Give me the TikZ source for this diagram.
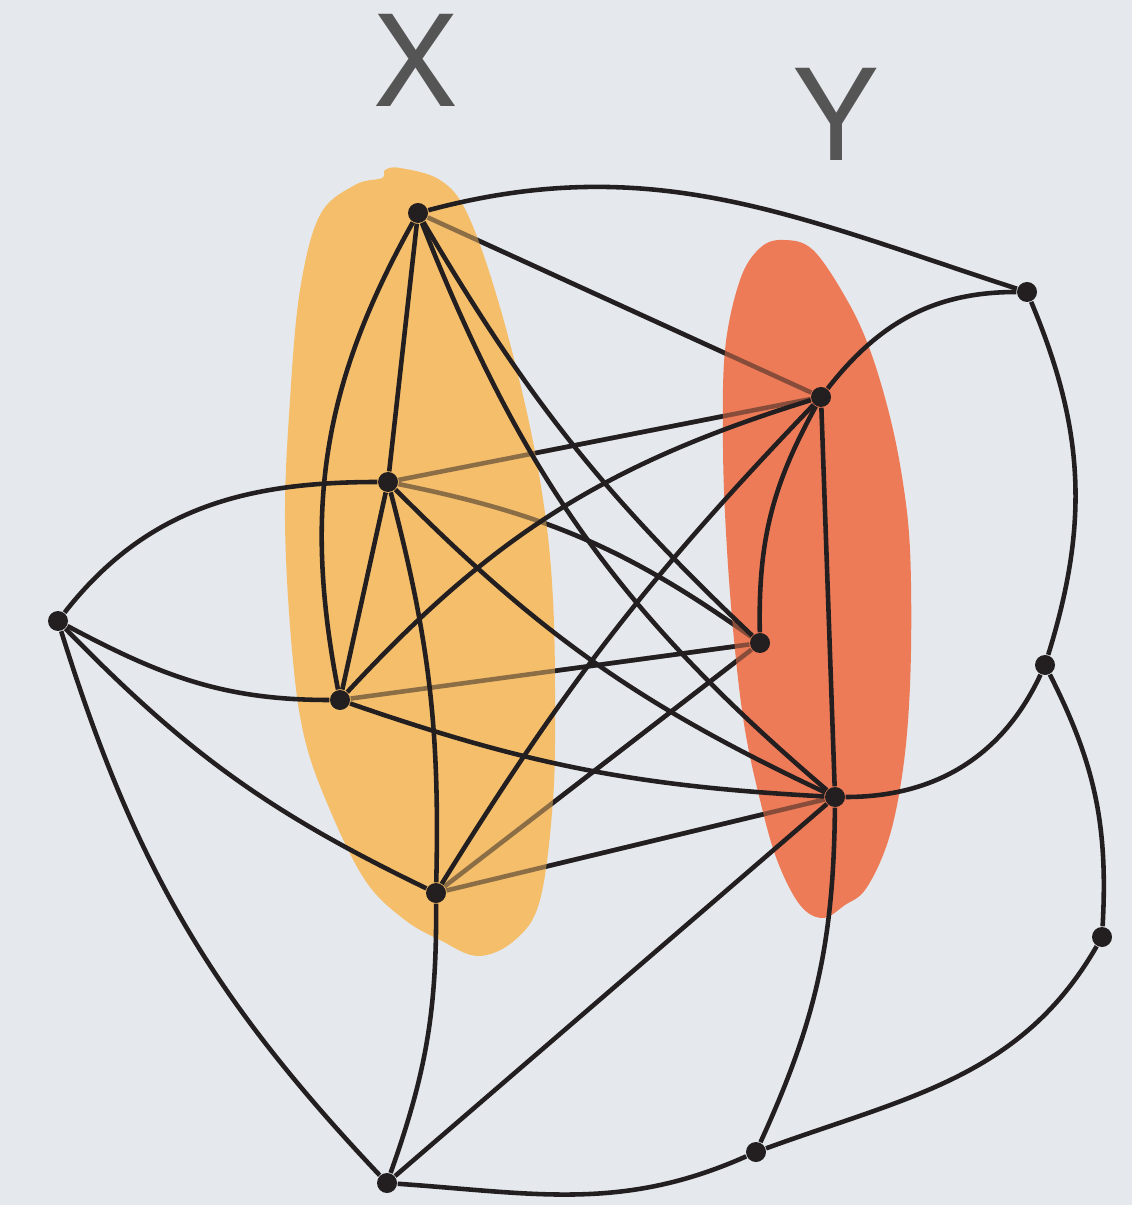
\documentclass[tikz,border=0pt]{standalone}
\usepackage{fontspec}
\setmainfont{TeX Gyre Heros}
\usetikzlibrary{positioning,backgrounds}
\definecolor{GraphPaper}{HTML}{E5E8EC}
\definecolor{GraphSetX}{HTML}{F5BE6B}
\definecolor{GraphSetY}{HTML}{EE7B57}
\definecolor{GraphInk}{HTML}{231F20}
\definecolor{GraphLabel}{HTML}{555555}
\pgfdeclarelayer{blobs}
\pgfsetlayers{background,blobs,main}

\begin{document}
\begin{tikzpicture}[vtx/.style={circle, fill=GraphInk, inner sep=0pt, minimum size=0.2cm},
  edge/.style={draw=GraphInk, line width=1.3pt},
  faded/.style={edge, draw opacity=0.5},
  setlabel/.style={text=GraphLabel, inner sep=0pt, font=\fontsize{36}{36}\selectfont}]
  \useasboundingbox (0,0) rectangle (11.32,-12.05);
  \node[setlabel] (xlab) at (4.16,-0.60) {X};
  \node[setlabel] (ylab) at (8.36,-1.14) {Y};
  % vertices
  \node[vtx] (x1) at (4.18,-2.13) {};  \node[vtx] (x2) at (3.88,-4.82) {};
  \node[vtx] (x3) at (3.40,-7.00) {};  \node[vtx] (x4) at (4.36,-8.93) {};
  \node[vtx] (y1) at (8.21,-3.97) {};  \node[vtx] (y2) at (7.60,-6.43) {};
  \node[vtx] (y3) at (8.35,-7.97) {};
  \node[vtx] (lft) at (0.58,-6.21) {};
  \node[vtx] (rtop) at (10.27,-2.92) {}; \node[vtx] (rmid) at (10.45,-6.65) {};
  \node[vtx] (rlow) at (11.02,-9.37) {};
  \node[vtx] (botr) at (7.56,-11.52) {}; \node[vtx] (bot) at (3.87,-11.83) {};
  \begin{pgfonlayer}{background}
    \fill[GraphPaper] (0,0) rectangle (11.32,-12.05);
    % X--Y edges that run under the sets
    \draw[edge] (x1) -- (y1); \draw[edge] (x2) -- (y1);
    \draw[edge] (x2) to[bend left=12] (y2);
    \draw[edge] (x3) -- (y2); \draw[edge] (x4) -- (y2); \draw[edge] (x4) -- (y3);
  \end{pgfonlayer}
  \begin{pgfonlayer}{blobs}
    \fill[GraphSetX] plot[smooth cycle, tension=0.6] coordinates {(4.00,-1.68) (4.40,-1.80)
      (4.67,-2.13) (4.97,-2.97) (5.27,-4.13) (5.45,-5.13) (5.53,-6.00) (5.55,-7.00)
      (5.53,-8.00) (5.40,-9.00) (5.15,-9.40) (4.78,-9.56) (4.40,-9.40) (4.05,-9.20)
      (3.67,-8.83) (3.33,-8.17) (3.05,-7.40) (2.92,-6.50) (2.85,-5.20) (2.90,-4.00)
      (3.00,-2.90) (3.20,-2.15) (3.55,-1.85) (3.82,-1.78) (3.85,-1.70)};
    \fill[GraphSetY] plot[smooth cycle, tension=0.6] coordinates {(7.83,-2.40) (8.13,-2.50)
      (8.47,-3.00) (8.70,-3.50) (8.90,-4.17) (9.03,-4.83) (9.10,-5.50) (9.11,-6.50)
      (9.07,-7.33) (8.98,-8.00) (8.85,-8.50) (8.65,-8.90) (8.45,-9.05) (8.23,-9.18)
      (8.00,-9.05) (7.77,-8.60) (7.60,-8.00) (7.45,-7.30) (7.35,-6.50) (7.27,-5.50)
      (7.23,-4.50) (7.25,-3.50) (7.40,-2.80) (7.60,-2.48)};
  \end{pgfonlayer}
  \draw[faded] (x1) -- (y1); \draw[faded] (x2) -- (y1);
  \draw[faded] (x2) to[bend left=12] (y2);
  \draw[faded] (x3) -- (y2); \draw[faded] (x4) -- (y2); \draw[faded] (x4) -- (y3);
  % edges inside X
  \draw[edge] (x1) to[bend right=20] (x3);
  \draw[edge] (x1) -- (x2);
  \draw[edge] (x2) -- (x3);
  \draw[edge] (x2) to[bend left=8] (x4);
  % X to Y, drawn on top
  \draw[edge] (x1) to[bend right=8] (y2);
  \draw[edge] (x1) to[bend right=14] (y3);
  \draw[edge] (x2) to[bend right=10] (y3);
  \draw[edge] (x3) to[bend left=15] (y1);
  \draw[edge] (x3) to[bend right=8] (y3);
  \draw[edge] (x4) to[bend left=6] (y1);
  % inside Y
  \draw[edge] (y1) to[bend right=15] (y2);
  \draw[edge] (y1) -- (y3);
  % outer vertices
  \draw[edge] (x1) to[out=15,in=162] (rtop);
  \draw[edge] (lft) to[out=52,in=180] (x2);
  \draw[edge] (lft) to[out=-28,in=180] (x3);
  \draw[edge] (lft) to[bend right=10] (x4);
  \draw[edge] (lft) to[bend right=13] (bot);
  \draw[edge] (x4) to[bend left=10] (bot);
  \draw[edge] (y1) to[out=52,in=180] (rtop);
  \draw[edge] (rtop) to[bend left=20] (rmid);
  \draw[edge] (y3) to[out=0,in=-115] (rmid);
  \draw[edge] (rmid) to[bend left=15] (rlow);
  \draw[edge] (rlow) to[out=-120,in=20] (botr);
  \draw[edge] (bot) to[out=-4,in=-156] (botr);
  \draw[edge] (y3) to[bend left=12] (botr);
  \draw[edge] (bot) -- (y3);
\end{tikzpicture}
\end{document}
